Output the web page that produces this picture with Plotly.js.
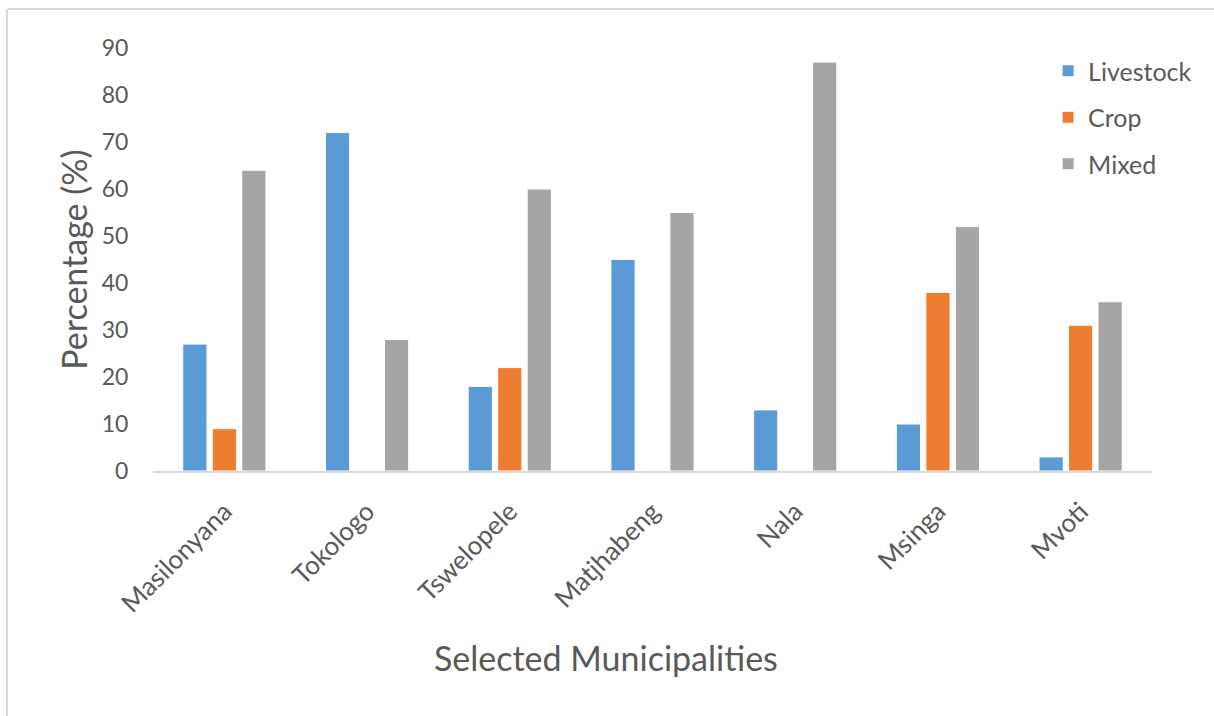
<!DOCTYPE html>
<html>
<head>
<meta charset="utf-8">
<script src="https://cdn.plot.ly/plotly-3.0.1.min.js"></script>
<style>html,body{margin:0;padding:0;background:#fff;}#chart{width:1214px;height:716px;}</style>
</head>
<body>
<div id="chart"></div>
<script>
const categories = ["Masilonyana", "Tokologo", "Tswelopele", "Matjhabeng", "Nala", "Msinga", "Mvoti"];
const livestock = [27, 72, 18, 45, 13, 10, 3];
const crop = [9, 0, 22, 0, 0, 38, 31];
const mixed = [64, 28, 60, 55, 87, 52, 36];
const seriesNames = ["Livestock", "Crop", "Mixed"];
const yTicks = [0, 10, 20, 30, 40, 50, 60, 70, 80, 90];
const xTitle = "Selected Municipalities";
const yTitle = "Percentage (%)";

const colors = ["#5b9bd5", "#ed7d31", "#a5a5a5"];
const seriesValues = [livestock, crop, mixed];
const FONT = "Lato, 'Open Sans', sans-serif";
const TXT = "#595959";

const data = seriesValues.map((vals, i) => ({
  type: "bar",
  name: seriesNames[i],
  x: categories,
  y: vals,
  legendgroup: "g" + i,
  marker: { color: colors[i], line: { color: "#ffffff", width: 1 } },
  hoverinfo: "x+y+name"
}));

const layout = {
  width: 1214,
  height: 716,
  paper_bgcolor: "#ffffff",
  plot_bgcolor: "#ffffff",
  margin: { l: 153, r: 62, t: 48, b: 245 },
  barmode: "group",
  bargap: 0.38,
  bargroupgap: 0.18,
  font: { family: FONT, color: TXT },
  showlegend: true,
  legend: {
    x: 0.896, y: 1.0, xanchor: "left", yanchor: "top",
    font: { family: FONT, size: 25, color: TXT },
    tracegroupgap: 11,
    traceorder: "grouped",
    bgcolor: "rgba(0,0,0,0)",
    itemwidth: 30
  },
  xaxis: {
    type: "category",
    tickangle: -45,
    tickfont: { family: FONT, size: 26, color: TXT },
    showline: true, linecolor: "#d9d9d9", linewidth: 2,
    showgrid: false, zeroline: false,
    ticks: "outside", ticklen: 13, tickcolor: "rgba(0,0,0,0)"
  },
  yaxis: {
    range: [0, 90],
    tickvals: yTicks,
    ticktext: yTicks.map(String),
    tickfont: { family: FONT, size: 23, color: TXT },
    showline: false, showgrid: false, zeroline: false,
    ticks: "outside", ticklen: 19, tickcolor: "rgba(0,0,0,0)",
    title: { text: yTitle, font: { family: FONT, size: 34, color: TXT }, standoff: 3 }
  },
  annotations: [
    { text: xTitle, xref: "paper", yref: "paper", x: 0.4535, y: -0.44, xanchor: "center", yanchor: "middle",
      showarrow: false, font: { family: FONT, size: 34, color: TXT } }
  ],
  shapes: [
    { type: "line", xref: "paper", yref: "paper", x0: -0.1456, x1: 1.062, y0: 1.0922, y1: 1.0922, line: { color: "#d9d9d9", width: 2 } },
    { type: "line", xref: "paper", yref: "paper", x0: -0.1461, x1: -0.1461, y0: 1.0922, y1: -0.58, line: { color: "#d9d9d9", width: 2 } }
  ]
};

Plotly.newPlot("chart", data, layout, { displayModeBar: false });
</script>
</body>
</html>
